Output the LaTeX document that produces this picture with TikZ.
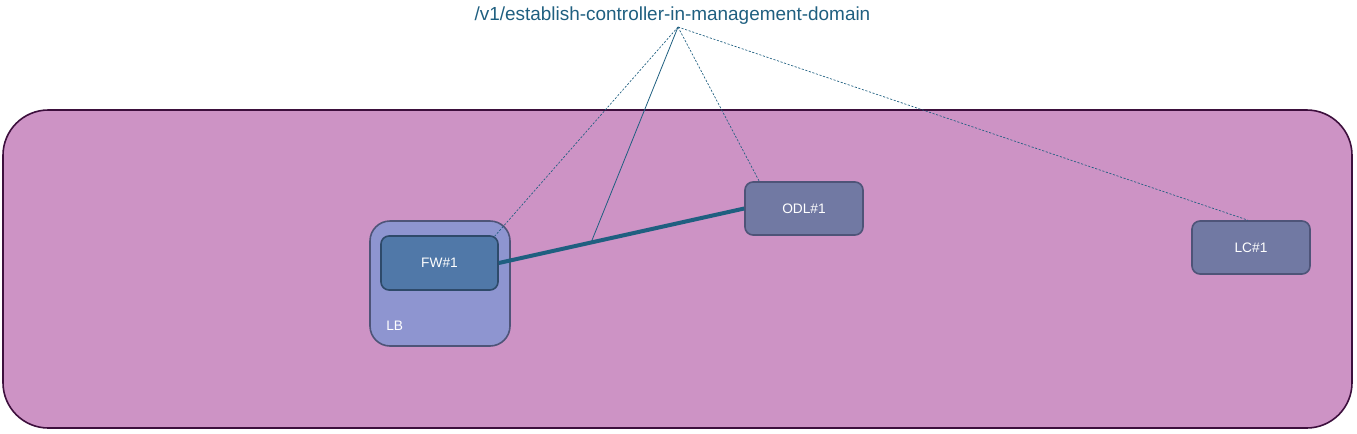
\documentclass[tikz,border=0pt]{standalone}
\usepackage{fontspec}
\setmainfont{Liberation Sans}
\usetikzlibrary{calc}
\definecolor{bgfill}{HTML}{CD93C5}
\definecolor{bgline}{HTML}{3D0F3D}
\definecolor{lbfill}{HTML}{8E95D0}
\definecolor{boxline}{HTML}{4E5478}
\definecolor{fwfill}{HTML}{5078A8}
\definecolor{fwline}{HTML}{2E4A6A}
\definecolor{ctlfill}{HTML}{7179A3}
\definecolor{linkc}{HTML}{1F5F80}
\begin{document}
\begin{tikzpicture}[x=0.75pt,y=-0.75pt,
  devbox/.style={draw=boxline,line width=1.2pt,fill=ctlfill,rounded corners=6pt,text=white,font=\fontsize{10.3}{12}\selectfont},
  leader/.style={draw=linkc,line width=0.5pt,dash pattern=on 1.6pt off 1.2pt},
  solidleader/.style={draw=linkc,line width=0.6pt},
  link/.style={draw=linkc,line width=3pt}]
\useasboundingbox (0,0) rectangle (1357,433);
\node[draw=bgline,line width=1.2pt,fill=bgfill,rounded corners=34pt,minimum width=1349*0.75pt,minimum height=318*0.75pt,inner sep=0pt] (domain) at (677.5,269) {};
\node[draw=boxline,line width=1.2pt,fill=lbfill,rounded corners=15pt,minimum width=140*0.75pt,minimum height=125*0.75pt,inner sep=0pt] (lb) at (440,283.5) {};
\node[text=white,font=\fontsize{10.3}{12}\selectfont,anchor=west,inner sep=0pt] (lblabel) at (386,326) {LB};
\node[devbox,draw=fwline,fill=fwfill,minimum width=117*0.75pt,minimum height=54*0.75pt,inner sep=0pt] (fw) at (439.5,263) {FW\#1};
\node[devbox,minimum width=118*0.75pt,minimum height=53*0.75pt,inner sep=0pt] (odl) at (804,208.5) {ODL\#1};
\node[devbox,minimum width=118*0.75pt,minimum height=53*0.75pt,inner sep=0pt] (lc) at (1251,247.5) {LC\#1};
\node[text=linkc,font=\fontsize{14.2}{16}\selectfont] (title) at (672.5,16) {/v1/establish-controller-in-management-domain};
\coordinate (apex) at (678,27);
\draw[link] (fw.east) -- (odl.west) coordinate[pos=0.376] (mid);
\draw[leader] (apex) -- ($(fw.north east)+(-5,2)$);
\draw[solidleader] (apex) -- (mid);
\draw[leader] (apex) -- ($(odl.north west)+(15,0)$);
\draw[leader] (apex) -- ($(lc.north)+(-3,0)$);
\end{tikzpicture}
\end{document}
